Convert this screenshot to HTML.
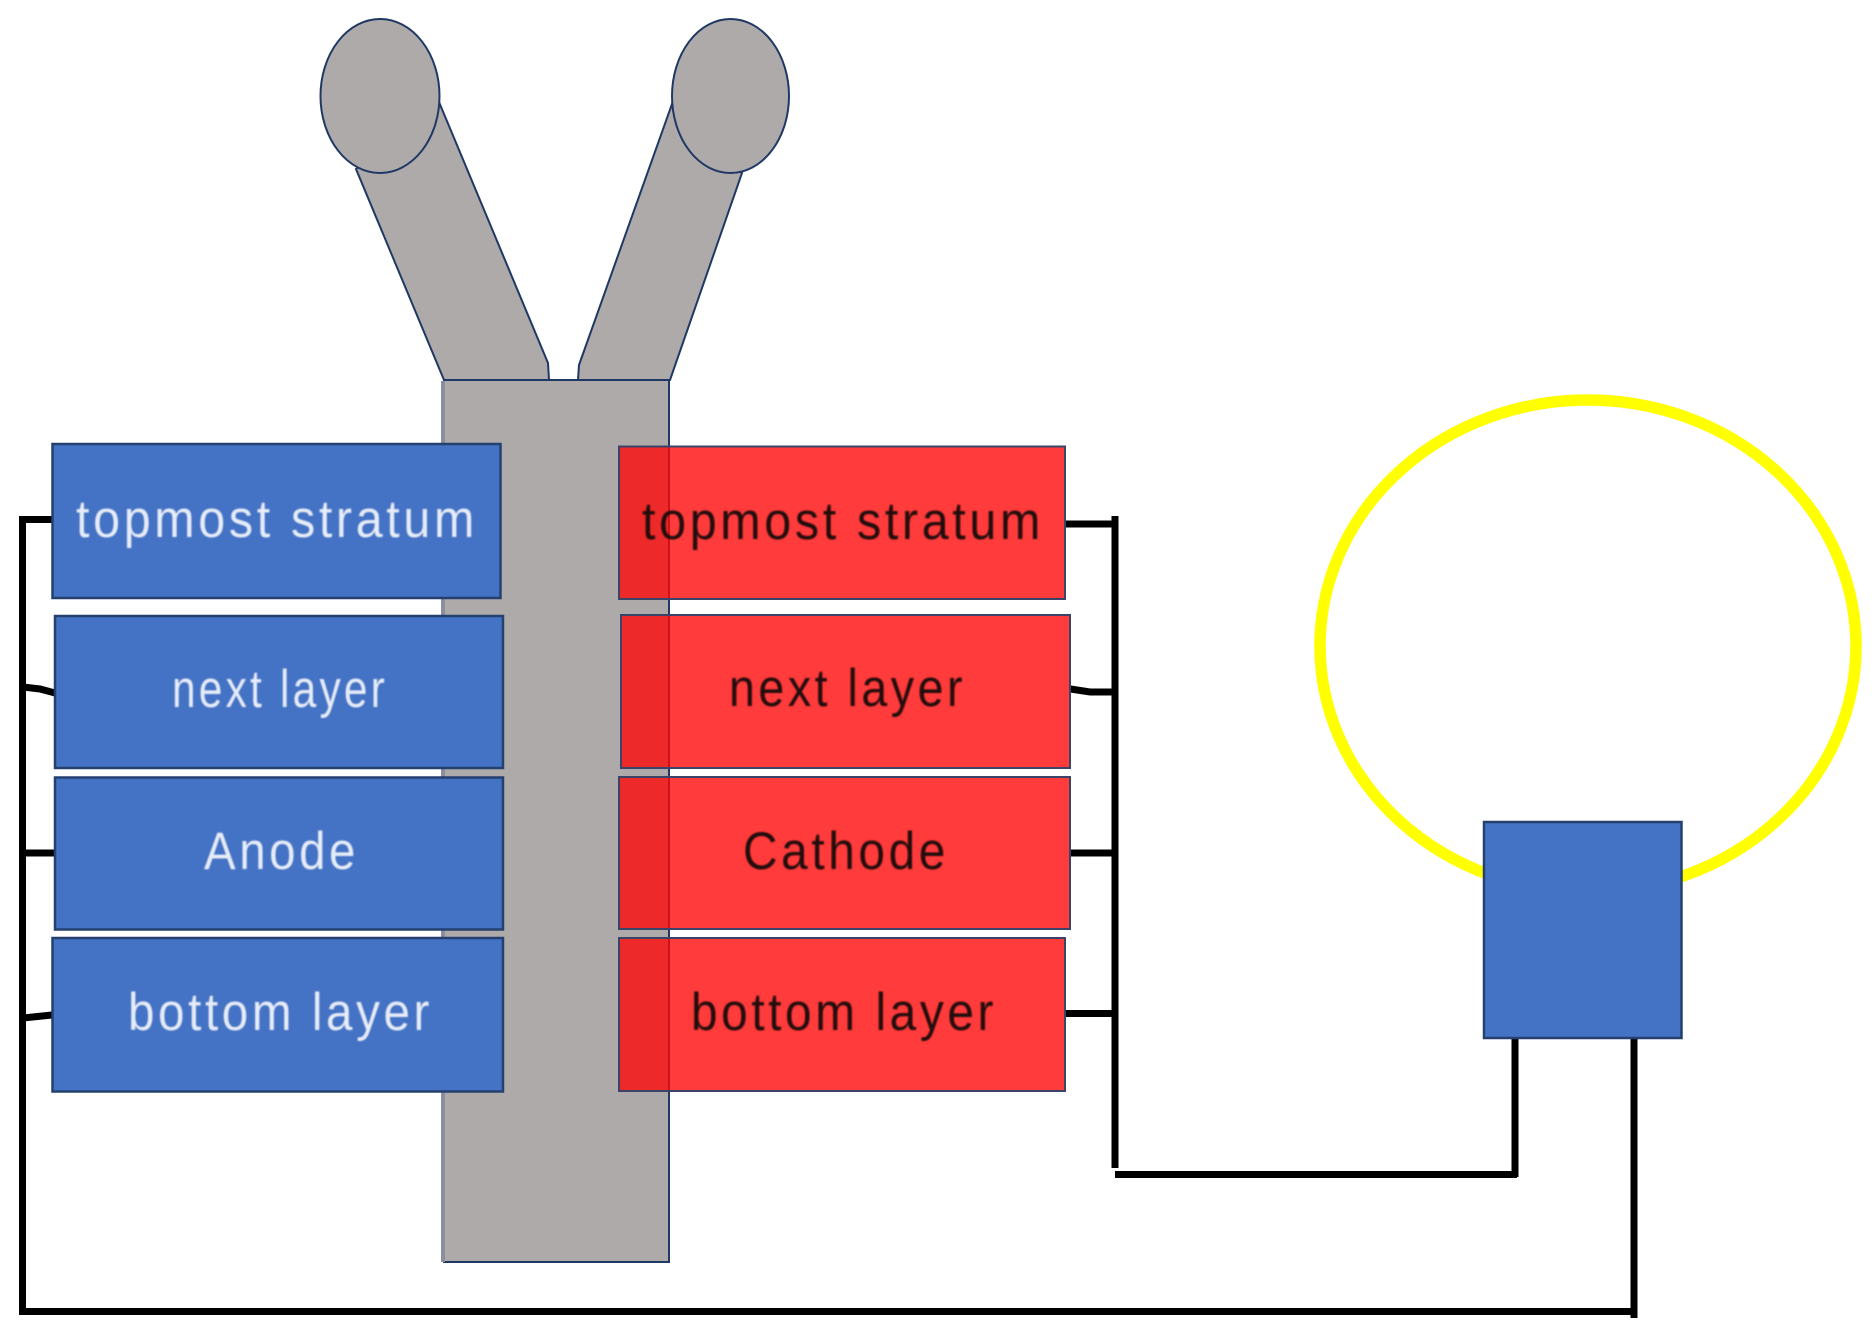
<!DOCTYPE html>
<html lang="en">
<head>
<meta charset="utf-8">
<title>Layered electrode diagram</title>
<style>
html,body{margin:0;padding:0;background:#fff;width:1876px;height:1336px;overflow:hidden}
svg{display:block}
text{font-family:"Liberation Sans",sans-serif;font-size:53px;letter-spacing:4px}
.w{fill:#e6ecf8}
.k{fill:#200808}
</style>
</head>
<body>
<svg width="1876" height="1336" viewBox="0 0 1876 1336" xmlns="http://www.w3.org/2000/svg">
<defs><filter id="b" x="-5%" y="-5%" width="110%" height="110%"><feGaussianBlur stdDeviation="0.7"/></filter></defs>

<!-- Yellow loop -->
<ellipse cx="1588" cy="646" rx="268" ry="246" fill="none" stroke="#ffff00" stroke-width="11.5"/>

<!-- Gray body -->
<g fill="#aeaaaa" stroke="#1f3864" stroke-width="2">
<path d="M439 102 L548 363 L549 380 L444 380 L356 169 Z"/>
<path d="M672 104 L579 365 L578 380 L670 380 L742 173 Z"/>
<rect x="444" y="380" width="225" height="882"/>
<ellipse cx="380" cy="96" rx="59.5" ry="77"/>
<ellipse cx="730.5" cy="96" rx="58.5" ry="77"/>
</g>
<rect x="441" y="381" width="4" height="881" fill="#8a8ea0"/>

<!-- Connectors -->
<g fill="none" stroke="#000" stroke-width="7">
<path d="M52 519.5 H22.5 V1311.5 H1634"/>
<path d="M1634 1038 V1318"/>
<path d="M23 687 L40 689 L55 693"/>
<path d="M23 853 H55"/>
<path d="M23 1018 L52 1015"/>
<path d="M1115 516 V1168"/>
<path d="M1065 524 H1115"/>
<path d="M1070.5 689 L1090 692 H1115"/>
<path d="M1070.5 853 H1115"/>
<path d="M1065 1013.5 H1115"/>
<path d="M1115 1174.5 H1517"/>
<path d="M1515 1038 V1177"/>
</g>

<!-- Blue layers -->
<g fill="#4472c4" stroke="#23406f" stroke-width="2.5">
<rect x="52.5" y="444" width="448" height="154"/>
<rect x="55" y="616" width="448" height="152"/>
<rect x="55" y="777.5" width="448" height="152"/>
<rect x="52.5" y="938" width="450.5" height="153.5"/>
<rect x="1484" y="822" width="197.5" height="216"/>
</g>

<!-- Red layers -->
<g fill="rgba(255,6,6,.79)" stroke="#3a4468" stroke-width="2">
<rect x="619" y="446.5" width="446" height="152.5"/>
<rect x="621" y="615" width="449" height="153"/>
<rect x="619" y="777" width="451" height="152"/>
<rect x="619" y="938" width="446" height="153"/>
</g>

<!-- Labels -->
<g filter="url(#b)">
<text class="w" x="76" y="537" textLength="402" lengthAdjust="spacingAndGlyphs">topmost stratum</text>
<text class="w" x="172" y="707" textLength="216" lengthAdjust="spacingAndGlyphs">next layer</text>
<text class="w" x="204" y="869" textLength="155" lengthAdjust="spacingAndGlyphs">Anode</text>
<text class="w" x="128" y="1030" textLength="305" lengthAdjust="spacingAndGlyphs">bottom layer</text>
<text class="k" x="642" y="539" textLength="402" lengthAdjust="spacingAndGlyphs">topmost stratum</text>
<text class="k" x="729" y="706" textLength="237" lengthAdjust="spacingAndGlyphs">next layer</text>
<text class="k" x="743" y="869" textLength="206" lengthAdjust="spacingAndGlyphs">Cathode</text>
<text class="k" x="691" y="1030" textLength="306" lengthAdjust="spacingAndGlyphs">bottom layer</text>
</g>
</svg>
</body>
</html>
